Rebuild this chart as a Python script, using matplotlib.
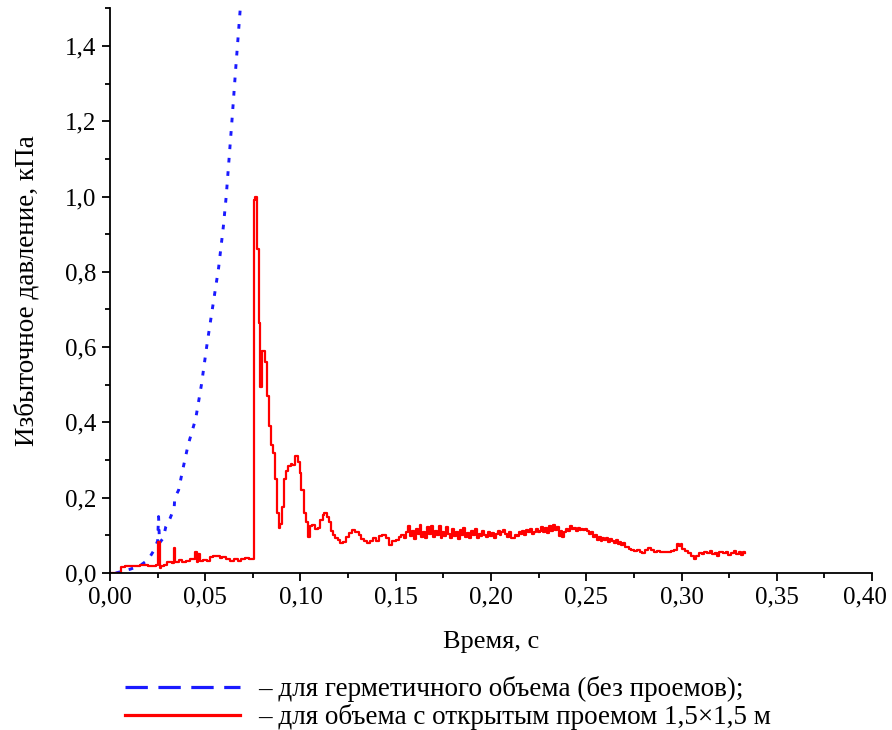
import matplotlib
matplotlib.use("Agg")
import matplotlib.pyplot as plt
from matplotlib.lines import Line2D
from matplotlib.ticker import MultipleLocator, FuncFormatter

plt.rcParams['font.family'] = ['Liberation Serif', 'DejaVu Serif']

# герметичный объем (без проемов)
t_sealed = [0.003, 0.0105, 0.0158, 0.020, 0.0228, 0.0250, 0.0255, 0.0260, 0.0280,
            0.0293, 0.0316, 0.0337, 0.0340, 0.0360, 0.0368, 0.0380, 0.0410, 0.0450,
            0.0480, 0.0510, 0.0540, 0.0570, 0.0595, 0.0610, 0.0625, 0.0640, 0.0660,
            0.0684, 0.0690]
p_sealed = [0.000, 0.010, 0.020, 0.035, 0.058, 0.085, 0.150, 0.080, 0.093,
            0.123, 0.146, 0.173, 0.200, 0.220, 0.240, 0.270, 0.340, 0.410,
            0.500, 0.610, 0.710, 0.810, 0.920, 1.000, 1.100, 1.200, 1.340,
            1.500, 1.540]

# объем с открытым проемом 1,5x1,5 м
t_open = [
    0.000, 0.006, 0.008, 0.012, 0.016, 0.020, 0.024, 0.025, 0.026, 0.027,
    0.0285, 0.030, 0.0325, 0.0335, 0.034, 0.036, 0.038, 0.040, 0.042, 0.0445,
    0.0455, 0.046, 0.047, 0.049, 0.051, 0.0525, 0.054, 0.056, 0.0575, 0.059,
    0.061, 0.063, 0.065, 0.067, 0.069, 0.071, 0.073, 0.0755, 0.0763, 0.0772,
    0.0780, 0.0790, 0.0800, 0.0815, 0.0826, 0.0834, 0.0845, 0.0855, 0.0865, 0.0875,
    0.0885, 0.0895, 0.0905, 0.0915, 0.0925, 0.0937, 0.0948, 0.0958, 0.0970, 0.0985,
    0.0995, 0.1005, 0.1016, 0.1030, 0.1040, 0.1050, 0.1060, 0.1075, 0.1090, 0.1105,
    0.1116, 0.1125, 0.1140, 0.1150, 0.1160, 0.1170, 0.1180, 0.1195, 0.1210, 0.1225,
    0.1240, 0.1255, 0.1270, 0.1285, 0.1305, 0.1320, 0.1335, 0.1350, 0.1365, 0.1380,
    0.1395, 0.1410, 0.1430, 0.1450, 0.1465, 0.1480, 0.1500, 0.1515, 0.1530, 0.1545,
    0.1555, 0.1565, 0.1575, 0.1585, 0.1595, 0.1605, 0.1615, 0.1625, 0.1635, 0.1645,
    0.1655, 0.1665, 0.1675, 0.1685, 0.1695, 0.1705, 0.1715, 0.1725, 0.1735, 0.1745,
    0.1755, 0.1765, 0.1775, 0.1785, 0.1795, 0.1805, 0.1815, 0.1825, 0.1835, 0.1845,
    0.1855, 0.1865, 0.1875, 0.1885, 0.1895, 0.1905, 0.1915, 0.1925, 0.1935, 0.1945,
    0.1955, 0.1965, 0.1975, 0.1985, 0.1995, 0.2005, 0.2015, 0.2025, 0.2035, 0.2045,
    0.2055, 0.2065, 0.2075, 0.2085, 0.2095, 0.2105, 0.2115, 0.2125, 0.2135, 0.2145,
    0.2155, 0.2165, 0.2175, 0.2185, 0.2195, 0.2205, 0.2215, 0.2225, 0.2235, 0.2245,
    0.2255, 0.2265, 0.2275, 0.2285, 0.2295, 0.2305, 0.2315, 0.2325, 0.2335, 0.2345,
    0.2355, 0.2365, 0.2375, 0.2385, 0.2395, 0.2405, 0.2415, 0.2425, 0.2435, 0.2445,
    0.2455, 0.2465, 0.2475, 0.2485, 0.2495, 0.2505, 0.2515, 0.2525, 0.2535, 0.2545,
    0.2555, 0.2565, 0.2575, 0.2585, 0.2595, 0.2605, 0.2615, 0.2625, 0.2635, 0.2645,
    0.2655, 0.2665, 0.2675, 0.2685, 0.2695, 0.2705, 0.2715, 0.2725, 0.2735, 0.2750,
    0.2765, 0.2780, 0.2795, 0.2810, 0.2825, 0.2840, 0.2855, 0.2870, 0.2885, 0.2900,
    0.2915, 0.2930, 0.2945, 0.2960, 0.2975, 0.2985, 0.2995, 0.3005, 0.3020, 0.3035,
    0.3050, 0.3065, 0.3075, 0.3090, 0.3105, 0.3120, 0.3135, 0.3150, 0.3160, 0.3175,
    0.3185, 0.3195, 0.3210, 0.3220, 0.3235, 0.3245, 0.3260, 0.3275, 0.3285, 0.3300,
    0.3310, 0.3325, 0.3335]
p_open = [
    0.000, 0.016, 0.020, 0.020, 0.022, 0.020, 0.022, 0.083, 0.013, 0.018,
    0.022, 0.030, 0.028, 0.067, 0.030, 0.035, 0.030, 0.032, 0.036, 0.056,
    0.030, 0.050, 0.033, 0.035, 0.033, 0.042, 0.045, 0.045, 0.040, 0.042,
    0.036, 0.032, 0.036, 0.033, 0.038, 0.040, 0.038, 0.990, 0.998, 0.860,
    0.665, 0.495, 0.590, 0.560, 0.470, 0.390, 0.340, 0.320, 0.250, 0.160,
    0.120, 0.130, 0.176, 0.250, 0.270, 0.283, 0.290, 0.287, 0.310, 0.295,
    0.266, 0.220, 0.160, 0.136, 0.096, 0.125, 0.128, 0.118, 0.120, 0.140,
    0.155, 0.160, 0.150, 0.135, 0.112, 0.100, 0.092, 0.088, 0.080, 0.083,
    0.095, 0.106, 0.115, 0.108, 0.100, 0.090, 0.086, 0.080, 0.085, 0.093,
    0.085, 0.098, 0.100, 0.092, 0.075, 0.085, 0.088, 0.095, 0.100, 0.092,
    0.110, 0.125, 0.098, 0.112, 0.090, 0.118, 0.105, 0.128, 0.097, 0.108,
    0.093, 0.122, 0.104, 0.126, 0.095, 0.112, 0.100, 0.124, 0.092, 0.110,
    0.098, 0.121, 0.103, 0.094, 0.118, 0.099, 0.108, 0.091, 0.115, 0.102,
    0.120, 0.096, 0.107, 0.094, 0.112, 0.100, 0.116, 0.093, 0.104, 0.098,
    0.113, 0.101, 0.095, 0.110, 0.099, 0.106, 0.092, 0.104, 0.112, 0.100,
    0.108, 0.115, 0.103, 0.097, 0.110, 0.094, 0.092, 0.102, 0.098, 0.108,
    0.104, 0.112, 0.101, 0.115, 0.108, 0.117, 0.105, 0.110, 0.118, 0.108,
    0.113, 0.121, 0.110, 0.119, 0.107, 0.124, 0.112, 0.128, 0.115, 0.122,
    0.098, 0.112, 0.096, 0.110, 0.118, 0.113, 0.125, 0.116, 0.119, 0.112,
    0.120, 0.114, 0.117, 0.115, 0.118, 0.112, 0.104, 0.108, 0.096, 0.100,
    0.088, 0.095, 0.085, 0.092, 0.088, 0.094, 0.082, 0.090, 0.086, 0.080,
    0.088, 0.078, 0.083, 0.074, 0.080, 0.070, 0.068, 0.064, 0.061, 0.058,
    0.062, 0.055, 0.053, 0.060, 0.066, 0.060, 0.056, 0.058, 0.056, 0.057,
    0.056, 0.057, 0.058, 0.062, 0.078, 0.072, 0.076, 0.065, 0.058, 0.053,
    0.045, 0.038, 0.046, 0.052, 0.050, 0.055, 0.054, 0.058, 0.050, 0.053,
    0.044, 0.055, 0.057, 0.052, 0.056, 0.048, 0.054, 0.058, 0.050, 0.055,
    0.047, 0.056, 0.052]

x_max = 0.40

fig = plt.figure(figsize=(8.92, 7.3), dpi=100)
ax = fig.add_axes([0.1233, 0.215, 0.8543, 0.7737])

ax.plot(t_sealed, p_sealed, color='#1a1aff', lw=2.1, linestyle=(0, (1.6, 3.0)))
ax.plot(t_open, p_open, color='#ff0000', lw=1.6, drawstyle='steps-post')

ax.set_xlim(0, x_max)
ax.set_ylim(0, 1.5)
ax.spines['top'].set_visible(False)
ax.spines['right'].set_visible(False)
for s in ('left', 'bottom'):
    ax.spines[s].set_linewidth(1.3)


def fmt_x(v, pos):
    # the last label is drawn separately so it stays inside the figure
    if abs(v - x_max) < 1e-9:
        return ""
    return f"{v:.2f}".replace('.', ',')


ax.xaxis.set_major_locator(MultipleLocator(0.05))
ax.xaxis.set_minor_locator(MultipleLocator(0.025))
ax.yaxis.set_major_locator(MultipleLocator(0.2))
ax.yaxis.set_minor_locator(MultipleLocator(0.1))
ax.xaxis.set_major_formatter(FuncFormatter(fmt_x))
ax.yaxis.set_major_formatter(FuncFormatter(lambda v, p: f"{v:.1f}".replace('.', ',')))
ax.tick_params(which='major', length=6, width=1.3, labelsize=18, pad=4)
ax.tick_params(which='minor', length=3.5, width=1.3)

ax.annotate(f"{x_max:.2f}".replace('.', ','), xy=(x_max, 0),
            xycoords=('data', 'axes fraction'), xytext=(-5, -10),
            textcoords='offset points', ha='center', va='top', fontsize=18)

ax.set_xlabel("Время, с", fontsize=19, labelpad=16)
ax.set_ylabel("Избыточное давление, кПа", fontsize=19.5, labelpad=18)

handles = [Line2D([], [], color='#1a1aff', lw=2.3, linestyle=(0, (7.0, 3.3))),
           Line2D([], [], color='#ff0000', lw=2.3)]
labels = ["– для герметичного объема (без проемов);",
          "– для объема с открытым проемом 1,5×1,5 м"]
fig.legend(handles, labels, loc='upper left', bbox_to_anchor=(0.140, 0.074),
           frameon=False, fontsize=19.5, handlelength=4.25, handletextpad=0.67,
           labelspacing=0.08, borderpad=0, borderaxespad=0)

fig.savefig("out.png", dpi=100)
